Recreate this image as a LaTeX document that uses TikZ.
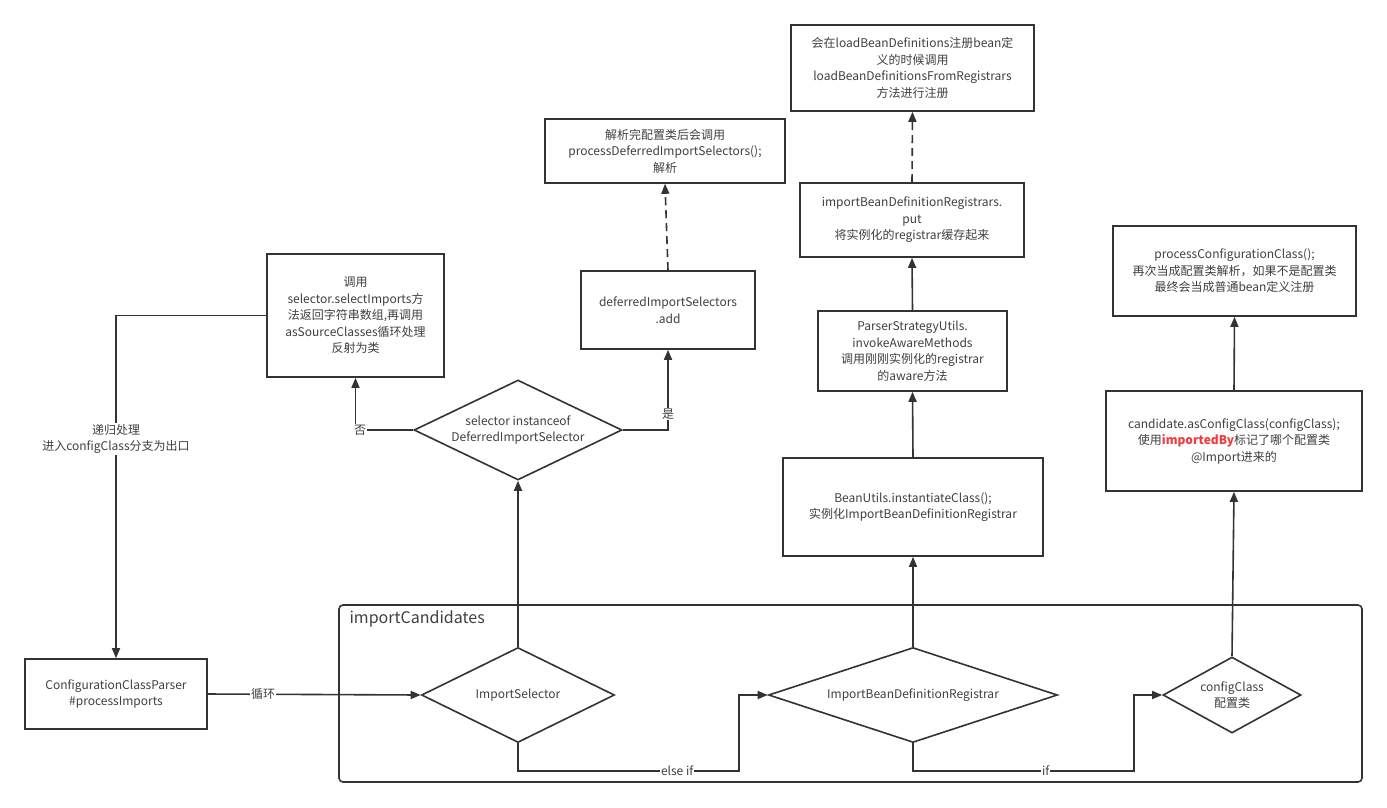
\documentclass[tikz,border=0pt]{standalone}
\usepackage{fontspec}
\setmainfont{Noto Sans CJK SC}
\usetikzlibrary{shapes.geometric,arrows.meta}
\definecolor{ln}{HTML}{333333}
\definecolor{tx}{HTML}{404040}
\definecolor{redtx}{HTML}{F03C3C}
\begin{document}
\begin{tikzpicture}[x=1pt,y=-1pt,
  every node/.style={font=\fontsize{12}{16.5}\selectfont, text=tx},
  box/.style={draw=ln, line width=1.6pt, rectangle, inner sep=0pt, align=center, fill=white},
  dia/.style={draw=ln, line width=1.6pt, diamond, inner sep=0pt, fill=white},
  conn/.style={draw=ln, line width=1.6pt, -{Triangle[length=10pt,width=8pt]}},
  dconn/.style={conn, dash pattern=on 8pt off 5pt},
  lbl/.style={fill=white, inner sep=1pt, align=center}]
\fill[white] (0,0) rectangle (1387,807);
\useasboundingbox (0,0) rectangle (1387,807);

% container
\draw[ln, line width=1.6pt, rounded corners=4pt] (339,605) rectangle (1362,782);
\node[anchor=west, font=\fontsize{16}{20}\selectfont] (title) at (346,619) {importCandidates};

% boxes
\node[box, minimum width=243pt, minimum height=86pt] (top) at (912.5,68) {会在loadBeanDefinitions注册bean定\\义的时候调用\\loadBeanDefinitionsFromRegistrars\\方法进行注册};
\node[box, minimum width=240pt, minimum height=64pt] (jx) at (665,151) {解析完配置类后会调用\\processDeferredImportSelectors();\\解析};
\node[box, minimum width=224pt, minimum height=74pt] (put) at (912,220) {importBeanDefinitionRegistrars.\\put\\将实例化的registrar缓存起来};
\node[box, minimum width=243pt, minimum height=90pt] (pcc) at (1234.5,271) {processConfigurationClass();\\再次当成配置类解析，如果不是配置类\\最终会当成普通bean定义注册};
\node[box, minimum width=177pt, minimum height=123pt] (dy) at (355.5,315.5) {调用\\selector.selectImports方\\法返回字符串数组,再调用\\asSourceClasses循环处理\\反射为类};
\node[box, minimum width=174pt, minimum height=78pt] (def) at (668,310) {deferredImportSelectors\\.add};
\node[box, minimum width=189pt, minimum height=80pt] (psu) at (912.5,351) {ParserStrategyUtils.\\invokeAwareMethods\\调用刚刚实例化的registrar\\的aware方法};
\node[box, minimum width=256pt, minimum height=100pt] (cand) at (1234,441) {candidate.asConfigClass(configClass);\\使用{\bfseries\color{redtx}importedBy}标记了哪个配置类\\@Import进来的};
\node[box, minimum width=260pt, minimum height=98pt] (bu) at (913,507) {BeanUtils.instantiateClass();\\实例化ImportBeanDefinitionRegistrar};
\node[box, minimum width=182pt, minimum height=70pt] (ccp) at (116,694) {ConfigurationClassParser\\\#processImports};

% diamonds
\node[dia, minimum width=208pt, minimum height=100pt, label={[align=center]center:{selector instanceof\\DeferredImportSelector}}] (sel) at (518,430) {};
\node[dia, minimum width=193pt, minimum height=95pt, label={center:ImportSelector}] (is) at (518,695) {};
\node[dia, minimum width=289pt, minimum height=95pt, label={center:ImportBeanDefinitionRegistrar}] (ibdr) at (913,695) {};
\node[dia, minimum width=138pt, minimum height=76pt, label={[align=center]center:{configClass\\配置类}}] (cfg) at (1232,695) {};

% connectors
\draw[conn] (ccp.east) -- node[lbl, pos=0.26] {循环} (is.west);
\draw[conn] (is.south) |- (739,771) node[lbl, pos=0.86] {else if} |- (ibdr.west);
\draw[conn] (ibdr.south) |- (1134,771) node[lbl, pos=0.8] {if} |- (cfg.west);
\draw[conn] (is.north) -- (sel.south);
\draw[conn] (sel.west) -| node[lbl, pos=0.46] {否} (dy.south);
\draw[conn] (sel.east) -| node[lbl, pos=0.6] {是} (def.south);
\draw[dconn] (def.north) -- (jx.south);
\draw[conn] (ibdr.north) -- (bu.south);
\draw[conn] (bu.north) -- (psu.south);
\draw[conn] (psu.north) -- (put.south);
\draw[dconn] (put.north) -- (top.south);
\draw[conn] (cfg.north) -- (cand.south);
\draw[conn] (cand.north) -- (pcc.south);
\draw[conn] (dy.west) -| node[lbl, pos=0.68] {递归处理\\进入configClass分支为出口} (ccp.north);
\end{tikzpicture}
\end{document}
